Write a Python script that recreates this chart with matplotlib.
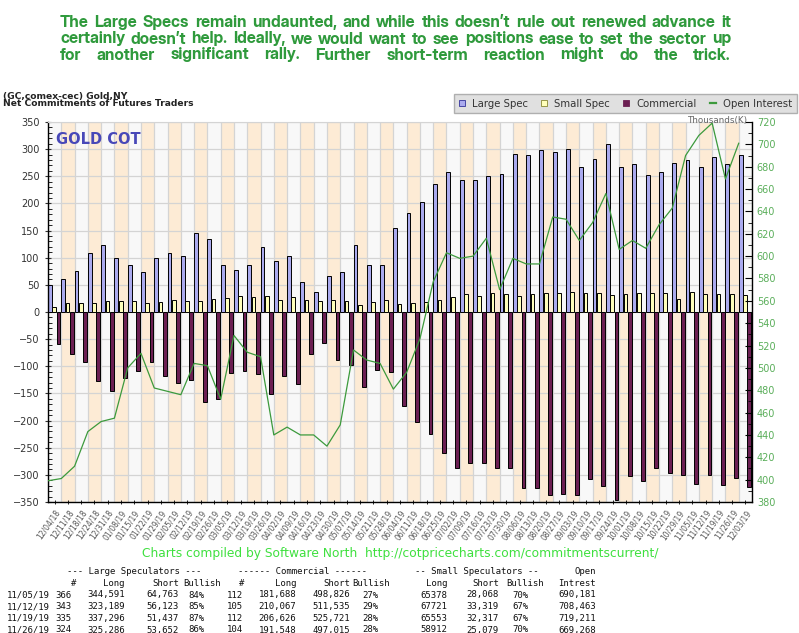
import numpy as np
import matplotlib
matplotlib.use("Agg")
import matplotlib.pyplot as plt
from matplotlib import font_manager
from matplotlib.font_manager import FontProperties
from matplotlib.textpath import TextPath
from matplotlib.patches import Patch
from matplotlib.lines import Line2D

# ---------------- data ----------------
dates = ['12/04/18', '12/11/18', '12/18/18', '12/24/18', '12/31/18', '01/08/19', '01/15/19',
         '01/22/19', '01/29/19', '02/05/19', '02/12/19', '02/19/19', '02/26/19', '03/05/19',
         '03/12/19', '03/19/19', '03/26/19', '04/02/19', '04/09/19', '04/16/19', '04/23/19',
         '04/30/19', '05/07/19', '05/14/19', '05/21/19', '05/28/19', '06/04/19', '06/11/19',
         '06/18/19', '06/25/19', '07/02/19', '07/09/19', '07/16/19', '07/23/19', '07/30/19',
         '08/06/19', '08/13/19', '08/20/19', '08/27/19', '09/03/19', '09/10/19', '09/17/19',
         '09/24/19', '10/01/19', '10/08/19', '10/15/19', '10/22/19', '10/29/19', '11/05/19',
         '11/12/19', '11/19/19', '11/26/19', '12/03/19']

large_spec = [49, 60, 75, 109, 123, 100, 87, 74, 100, 109, 104, 146, 134, 87, 77, 87, 119, 94,
              104, 55, 36, 66, 74, 123, 87, 86, 155, 183, 202, 236, 257, 244, 244, 250, 254,
              291, 290, 298, 294, 300, 268, 281, 310, 267, 273, 252, 258, 274, 280, 267, 286,
              272, 289]

small_spec = [10, 16, 16, 17, 21, 21, 21, 17, 19, 23, 21, 21, 24, 26, 29, 27, 30, 23, 27, 23,
              21, 23, 21, 13, 19, 23, 15, 17, 18, 22, 27, 33, 30, 35, 33, 30, 33, 35, 35, 37,
              35, 35, 31, 33, 35, 35, 35, 24, 37, 34, 33, 34, 31]

commercial = [-59, -77, -92, -128, -145, -122, -109, -92, -118, -131, -126, -166, -160, -113,
              -109, -115, -151, -118, -133, -78, -57, -88, -97, -138, -107, -110, -173, -202,
              -224, -260, -287, -279, -279, -288, -288, -325, -325, -338, -335, -338, -307,
              -320, -347, -302, -312, -288, -297, -301, -317, -301, -319, -305, -323]

open_interest = [399, 401, 412, 443, 452, 455, 500, 513, 482, 479, 476, 504, 502, 472, 529,
                 514, 510, 440, 447, 440, 440, 430, 449, 516, 507, 504, 481, 496, 526, 577,
                 603, 598, 600, 616, 570, 598, 593, 593, 635, 633, 614, 630, 656, 606, 614,
                 607, 628, 643, 690, 708, 719, 669, 701]

left_ticks = list(range(-350, 351, 50))
right_ticks = list(range(380, 721, 20))

title_lines = [
    "The Large Specs remain undaunted, and while this doesn\u2019t rule out renewed advance it",
    "certainly doesn\u2019t help. Ideally, we would want to see positions ease to set the sector up",
    "for another significant rally. Further short-term reaction might do the trick.",
]

tbl_dates = ['11/05/19', '11/12/19', '11/19/19', '11/26/19']
ls_n = [366, 343, 335, 324]
ls_long = [344591, 323189, 337296, 325286]
ls_short = [64763, 56123, 51437, 53652]
ls_bull = [84, 85, 87, 86]
com_n = [112, 105, 112, 104]
com_long = [181688, 210067, 206626, 191548]
com_short = [498826, 511535, 525721, 497015]
com_bull = [27, 29, 28, 28]
ss_long = [65378, 67721, 65553, 58912]
ss_short = [28068, 33319, 32317, 25079]
ss_bull = [70, 67, 67, 70]
oi_tbl = [690181, 708463, 719211, 669268]

# ---------------- figure ----------------
W, H = 799, 633
fig = plt.figure(figsize=(W / 100, H / 100), dpi=100)
fig.patch.set_facecolor('white')


def fx(x):
    return x / W


def fy(y):
    return 1 - y / H


L, R, T, B = 48, 752, 122, 502
ax = fig.add_axes([fx(L), fy(B), (R - L) / W, (B - T) / H])
ax.set_facecolor('#f8f8f8')
n = len(dates)
x = np.arange(n)

for i in range(n):
    if i % 2 == 1:
        ax.axvspan(i, i + 1, color='#fdebd5', zorder=0, lw=0)
for i in range(n + 1):
    ax.axvline(i, color='#d4d4d4', lw=0.9, zorder=0.5)
for v in left_ticks:
    ax.axhline(v, color='#d4d4d4', lw=0.9, zorder=0.5)

ax.bar(x + 0.0, large_spec, width=0.29, align='edge', color='#aaaaee',
       edgecolor='black', lw=0.7, zorder=2, label='Large Spec')
ax.bar(x + 0.33, small_spec, width=0.28, align='edge', color='#ffffbb',
       edgecolor='black', lw=0.7, zorder=2, label='Small Spec')
ax.bar(x + 0.65, commercial, width=0.29, align='edge', color='#6b1f52',
       edgecolor='black', lw=0.7, zorder=2, label='Commercial')

ax.set_xlim(0, n)
ax.set_ylim(-350, 350)
ax.set_yticks(left_ticks)
ax.set_yticks(range(-350, 351, 10), minor=True)
ax.tick_params(axis='y', which='major', labelsize=7, colors='#333333', length=5,
               direction='inout', width=0.8)
ax.tick_params(axis='y', which='minor', length=3, direction='in', width=0.6)
ax.set_xticks(x + 0.5)
ax.set_xticklabels(dates, rotation=55, ha='right', rotation_mode='anchor',
                   fontsize=5.5, color='#555555')
ax.tick_params(axis='x', length=3, width=0.6, pad=3, direction='inout')
for s in ['left', 'bottom']:
    ax.spines[s].set_color('black')
    ax.spines[s].set_linewidth(1.0)
ax.spines['top'].set_color('#d4d4d4')
ax.spines['right'].set_visible(False)

ax2 = ax.twinx()
ax2.plot(x, open_interest, color='#3c9a3c', lw=0.9, zorder=5, label='Open Interest')
ax2.set_ylim(380, 720)
ax2.set_yticks(right_ticks)
ax2.set_yticks(range(380, 721, 10), minor=True)
ax2.tick_params(axis='y', which='major', labelsize=7, colors='#5aae5a', length=5,
                direction='in', width=0.8)
ax2.tick_params(axis='y', which='minor', length=3, direction='in', width=0.6, color='black')
ax2.tick_params(axis='y', which='major', color='black')
ax2.spines['right'].set_color('black')
ax2.spines['right'].set_linewidth(1.0)
ax2.spines['top'].set_visible(False)
ax2.spines['left'].set_visible(False)
ax2.spines['bottom'].set_visible(False)

ax.text(0.012, 0.955, 'GOLD COT', transform=ax.transAxes, fontsize=10.5,
        fontweight='bold', color='#4848b8', ha='left', va='center', zorder=6)
fig.text(fx(747), fy(121), 'Thousands(K)', fontsize=6.3, color='#666666',
         ha='right', va='center')

# ---------------- legend ----------------
handles = [Patch(facecolor='#aaaaee', edgecolor='#333399', lw=0.6),
           Patch(facecolor='#ffffbb', edgecolor='#888833', lw=0.6),
           Patch(facecolor='#6b1f52', edgecolor='#6b1f52', lw=0.6),
           Line2D([0], [0], color='#3c9a3c', lw=1.6)]
labels = ['Large Spec', 'Small Spec', 'Commercial', 'Open Interest']
leg = fig.legend(handles, labels, loc='upper right', bbox_to_anchor=(fx(797), fy(94)),
                 ncol=4, fontsize=7.3, frameon=True, fancybox=False,
                 handlelength=0.6, handleheight=0.6, handletextpad=0.7,
                 columnspacing=1.3, borderpad=0.45, borderaxespad=0)
leg.get_frame().set_facecolor('#d9d9d9')
leg.get_frame().set_edgecolor('#a0a0a0')
leg.get_frame().set_linewidth(1.0)
for t in leg.get_texts():
    t.set_color('#333333')

# ---------------- header ----------------
fig.text(fx(3), fy(96.5), '(GC,comex-cec) Gold,NY', fontsize=6.6, fontweight='bold',
         color='#222222', ha='left', va='center')
fig.text(fx(3), fy(104), 'Net Commitments of Futures Traders', fontsize=6.6,
         fontweight='bold', color='#222222', ha='left', va='center')

# ---------------- title (justified, bold sans of matching width) ----------------
cands = []
for fe in font_manager.fontManager.ttflist:
    w = fe.weight
    is_bold = (w == 700 or w == 'bold')
    fam_ok = any(k in fe.name for k in ('Noto Sans', 'Liberation Sans', 'Roboto',
                                         'Lato', 'Open Sans', 'DejaVu Sans', 'Inter'))
    if is_bold and fam_ok and 'Mono' not in fe.name and 'CJK' not in fe.name \
            and str(fe.style) == 'normal':
        cands.append(fe.fname)
cands = sorted(set(cands))

target_ratio = 640 / 11.7   # natural width of line 1 per pixel of cap height
best = None
for fn in cands:
    try:
        fp_ = FontProperties(fname=fn)
        cap = TextPath((0, 0), 'H', prop=fp_, size=100).get_extents().height
        wid = TextPath((0, 0), title_lines[0], prop=fp_, size=100).get_extents().width
        ratio = wid / cap
        score = abs(ratio - target_ratio) + (0 if ratio <= target_ratio * 1.04 else 20)
        if best is None or score < best[0]:
            best = (score, fn, cap)
    except Exception:
        continue

if best is None:
    tprop_file = font_manager.findfont(FontProperties(family='DejaVu Sans', weight='bold'))
    cap100 = TextPath((0, 0), 'H', prop=FontProperties(fname=tprop_file),
                      size=100).get_extents().height
else:
    tprop_file = best[1]
    cap100 = best[2]
cap_px = 11.7
tsize = cap_px * 72 / 100 / (cap100 / 100)

fig.canvas.draw()
renderer = fig.canvas.get_renderer()
x0, x1 = 60, 731


def word_widths(words, size):
    ws = []
    for w in words:
        t = fig.text(0, 0, w, fontproperties=FontProperties(fname=tprop_file, size=size))
        ws.append(t.get_window_extent(renderer).width)
        t.remove()
    return ws


min_gap_frac = 0.2
for _ in range(3):
    worst = 0
    for line in title_lines:
        words = line.split()
        ws = word_widths(words, tsize)
        need = sum(ws) + (len(words) - 1) * tsize * 100 / 72 * min_gap_frac
        worst = max(worst, need / (x1 - x0))
    if worst > 1:
        tsize = tsize / worst
    else:
        break

title_y = [22.5, 39, 55]
for line, yy in zip(title_lines, title_y):
    words = line.split()
    ws = word_widths(words, tsize)
    gap = ((x1 - x0) - sum(ws)) / (len(words) - 1)
    cx = x0
    for w, ww in zip(words, ws):
        fig.text(fx(cx), fy(yy), w,
                 fontproperties=FontProperties(fname=tprop_file, size=tsize),
                 color='#2f9a3c', ha='left', va='center')
        cx += ww + gap

# ---------------- credit ----------------
fig.text(fx(400), fy(553),
         'Charts compiled by Software North  http://cotpricecharts.com/commitmentscurrent/',
         fontsize=8.8, color='#3ee03e', ha='center', va='center')

# ---------------- table ----------------
mono = dict(family='DejaVu Sans Mono', fontsize=6.5, color='#111111', va='center')


def put(xp, yp, s, ha):
    fig.text(fx(xp), fy(yp), s, ha=ha, **mono)


y_h1, y_h2 = 571.5, 583
put(67, y_h1, '--- Large Speculators ---', 'left')
put(238, y_h1, '------ Commercial ------', 'left')
put(415, y_h1, '-- Small Speculators --', 'left')
put(596, y_h1, 'Open', 'right')
put(73.5, y_h2, '#', 'center')
put(125, y_h2, 'Long', 'right')
put(179, y_h2, 'Short', 'right')
put(183, y_h2, 'Bullish', 'left')
put(241.5, y_h2, '#', 'center')
put(296, y_h2, 'Long', 'right')
put(350, y_h2, 'Short', 'right')
put(352, y_h2, 'Bullish', 'left')
put(447, y_h2, 'Long', 'right')
put(499, y_h2, 'Short', 'right')
put(506, y_h2, 'Bullish', 'left')
put(596, y_h2, 'Intrest', 'right')

row_y = [595, 606.7, 618.3, 630]
for k, yy in enumerate(row_y):
    put(7, yy, tbl_dates[k], 'left')
    put(71, yy, f'{ls_n[k]}', 'right')
    put(125, yy, f'{ls_long[k]:,}', 'right')
    put(179, yy, f'{ls_short[k]:,}', 'right')
    put(188, yy, f'{ls_bull[k]}%', 'left')
    put(243, yy, f'{com_n[k]}', 'right')
    put(296, yy, f'{com_long[k]:,}', 'right')
    put(350, yy, f'{com_short[k]:,}', 'right')
    put(362, yy, f'{com_bull[k]}%', 'left')
    put(447, yy, f'{ss_long[k]}', 'right')
    put(499, yy, f'{ss_short[k]:,}', 'right')
    put(512, yy, f'{ss_bull[k]}%', 'left')
    put(596, yy, f'{oi_tbl[k]:,}', 'right')

fig.savefig('out.png', dpi=100)
